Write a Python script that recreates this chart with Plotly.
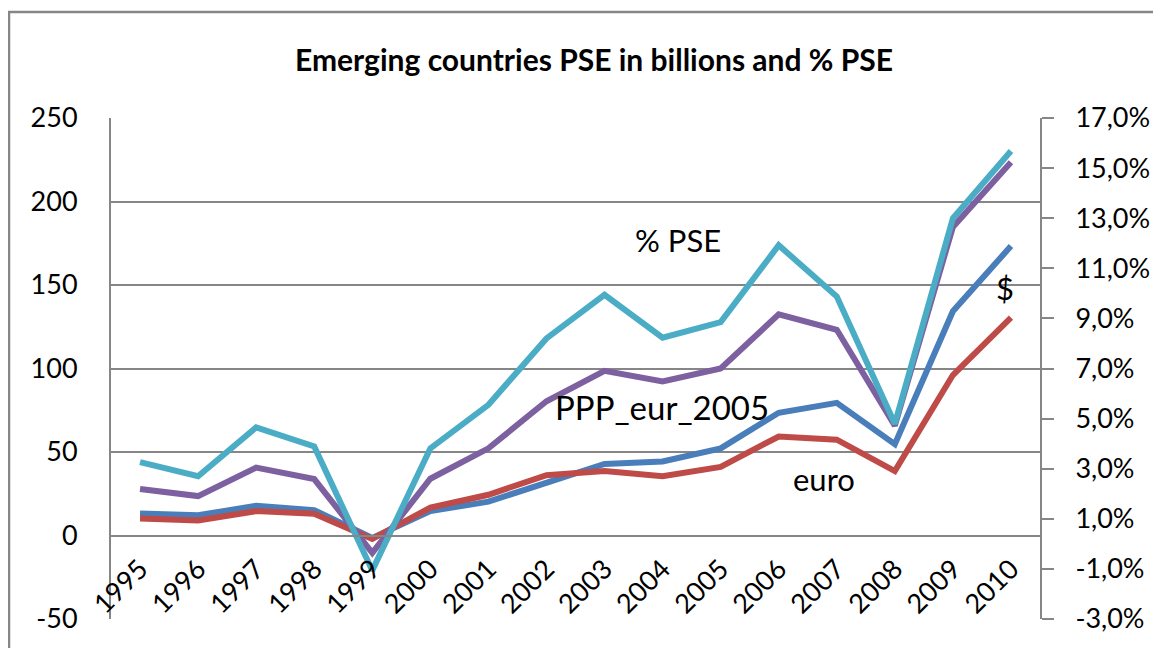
import plotly.graph_objects as go

years = [str(y) for y in range(1995, 2011)]
usd = [13.2, 12.1, 17.8, 15.2, -1.5, 14.6, 20.3, 32.0, 42.8, 44.3, 52.2, 73.5, 79.4, 54.7, 134.3, 173.3]
euro = [10.2, 9.0, 14.6, 13.0, -2.1, 16.7, 24.4, 36.1, 38.6, 35.5, 41.1, 59.3, 57.4, 38.6, 96.1, 130.5]
ppp_eur_2005 = [27.8, 23.6, 40.7, 33.8, -10.4, 34.0, 52.2, 80.4, 98.6, 92.3, 100.0, 132.4, 123.2, 65.8, 184.8, 223.5]
pse_pct = [3.26, 2.70, 4.65, 3.89, -1.06, 3.81, 5.55, 8.20, 9.94, 8.23, 8.85, 11.92, 9.87, 4.79, 13.0, 15.68]

left_ticks = [-50, 0, 50, 100, 150, 200, 250]
left_labels = ["-50", "0", "50", "100", "150", "200", "250"]
right_ticks = [-3, -1, 1, 3, 5, 7, 9, 11, 13, 15, 17]
right_labels = ["-3,0%", "-1,0%", "1,0%", "3,0%", "5,0%", "7,0%", "9,0%",
                "11,0%", "13,0%", "15,0%", "17,0%"]

FONT = "Lato"
GRAY = "#868686"
LW = 6

fig = go.Figure()
fig.add_trace(go.Scatter(x=years, y=usd, name="$", mode="lines",
                         line=dict(color="#4A7EBB", width=LW)))
fig.add_trace(go.Scatter(x=years, y=euro, name="euro", mode="lines",
                         line=dict(color="#BE4B48", width=LW)))
fig.add_trace(go.Scatter(x=years, y=ppp_eur_2005, name="PPP_eur_2005", mode="lines",
                         line=dict(color="#7D60A0", width=LW)))
fig.add_trace(go.Scatter(x=years, y=pse_pct, name="% PSE", mode="lines",
                         line=dict(color="#4BACC6", width=LW), yaxis="y2"))

# page body adds an 8px offset; lay the figure out in page pixels minus that
OFF = 8
W, H = 1161 - OFF, 648 - OFF
L, R, T, B = 111 - OFF, 1040 - OFF, 118 - OFF, 619 - OFF
pw, ph = R - L, B - T

def px2paper_x(px):
    return (px - OFF - L) / pw

def px2paper_y(py):
    return (B - (py - OFF)) / ph

fig.update_layout(
    width=W, height=H,
    margin=dict(l=L, r=W - R, t=T, b=H - B, pad=0, autoexpand=False),
    paper_bgcolor="white", plot_bgcolor="white",
    showlegend=False,
    font=dict(family=FONT, size=27, color="black"),
    title=dict(text="<b>Emerging countries PSE in billions and % PSE</b>",
               x=(594 - OFF) / W, xanchor="center", xref="container",
               y=1 - (60 - OFF) / H, yanchor="middle", yref="container",
               font=dict(family=FONT, size=30, color="black")),
    xaxis=dict(type="category", range=[-0.5, 15.5], showgrid=False,
               anchor="free", position=50 / 300, automargin=False,
               showline=True, linecolor=GRAY, linewidth=2,
               ticks="", tickangle=-45, ticklabelstandoff=6,
               tickfont=dict(family=FONT, size=27)),
    yaxis=dict(range=[-50, 250], tickvals=left_ticks, ticktext=left_labels,
               showgrid=True, automargin=False,
               gridcolor=GRAY, gridwidth=2, zeroline=False,
               showline=True, linecolor=GRAY, linewidth=2,
               ticks="", ticklabelstandoff=26,
               tickfont=dict(family=FONT, size=27)),
    yaxis2=dict(range=[-3, 17], overlaying="y", side="right", automargin=False,
                tickvals=right_ticks, ticktext=right_labels,
                showgrid=False, zeroline=False,
                showline=True, linecolor=GRAY, linewidth=2,
                ticks="outside", ticklen=12, tickwidth=2, tickcolor=GRAY,
                ticklabelstandoff=16,
                tickfont=dict(family=FONT, size=27)),
    shapes=[dict(type="rect", xref="paper", yref="paper",
                 x0=px2paper_x(9), x1=px2paper_x(1180),
                 y0=px2paper_y(680), y1=px2paper_y(12),
                 line=dict(color=GRAY, width=2.5), layer="below")],
)

label_font = dict(family=FONT, size=31, color="black")
fig.add_annotation(x=9.27, y=177, xref="x", yref="y", text="% PSE",
                   showarrow=False, font=label_font)
fig.add_annotation(x=8.99, y=77, xref="x", yref="y", text="PPP_eur_2005",
                   showarrow=False, font=dict(family=FONT, size=33, color="black"))
fig.add_annotation(x=11.78, y=34, xref="x", yref="y", text="euro",
                   showarrow=False, font=label_font)
fig.add_annotation(x=14.9, y=148, xref="x", yref="y", text="$",
                   showarrow=False, font=label_font)

fig.write_html("out.html")
